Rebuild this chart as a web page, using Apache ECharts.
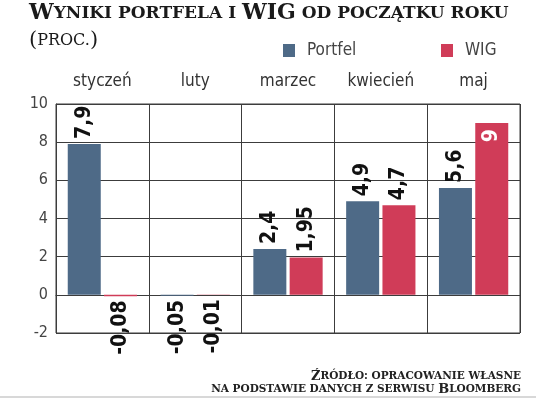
<!DOCTYPE html>
<html lang="pl">

<head>
    <meta charset="UTF-8">
    <title>Wyniki portfela i WIG</title>
    <style>
        html, body { margin: 0; padding: 0; background: #fff; }
        #chart { width: 536px; height: 399px; }
    </style>
    <script src="https://cdn.jsdelivr.net/npm/echarts@6/dist/echarts.min.js"></script>
</head>

<body>
    <div id="chart"></div>
    <script>
        var months = ['styczeń', 'luty', 'marzec', 'kwiecień', 'maj'];
        var portfel = [7.9, -0.05, 2.4, 4.9, 5.6];
        var wig = [-0.08, -0.01, 1.95, 4.7, 9];
        var yTicks = [-2, 0, 2, 4, 6, 8, 10];

        var sansC = '"DejaVu Sans Condensed", "Liberation Sans Narrow", sans-serif';
        var serif = '"DejaVu Serif", "Liberation Serif", serif';
        var lineColor = '#3c3c3c';

        // per-bar label: above for positive, below for negative, inside when near the top
        function bars(values) {
            return values.map(function (v) {
                var lbl;
                if (v > 8.5) {
                    lbl = { position: 'insideTop', align: 'right', color: '#fff', distance: 6 };
                } else if (v >= 0) {
                    lbl = { position: 'top', align: 'left', distance: 5 };
                } else {
                    lbl = { position: 'bottom', align: 'right', distance: 4 };
                }
                return { value: v, label: lbl };
            });
        }

        var labelBase = {
            show: true,
            rotate: 90,
            verticalAlign: 'middle',
            fontFamily: sansC,
            fontWeight: 'bold',
            fontSize: 21,
            color: '#111',
            formatter: function (p) { return String(p.value).replace('.', ','); }
        };

        var capsBig = { fontFamily: serif, fontWeight: 'bold', fontSize: 22, color: '#1a1a1a', lineHeight: 27 };
        var capsSmall = { fontFamily: serif, fontWeight: 'bold', fontSize: 17, color: '#1a1a1a', lineHeight: 27 };
        var srcBig = { fontFamily: serif, fontWeight: 'bold', fontSize: 13, color: '#222' };
        var srcSmall = { fontFamily: serif, fontWeight: 'bold', fontSize: 10.5, color: '#222' };

        echarts.init(document.getElementById('chart')).setOption({
            animation: false,
            title: [{
                left: 29,
                top: 0,
                padding: 0,
                text: '{b|W}{s|YNIKI PORTFELA I }{b|WIG}{s| OD POCZĄTKU ROKU}\n{p|(}{n|PROC.}{p|)}',
                textStyle: {
                    fontWeight: 'normal',
                    rich: {
                        b: capsBig,
                        s: capsSmall,
                        p: { fontFamily: serif, fontWeight: 'normal', fontSize: 21, color: '#1a1a1a', lineHeight: 27 },
                        n: { fontFamily: serif, fontWeight: 'normal', fontSize: 16, color: '#1a1a1a', lineHeight: 27 }
                    }
                }
            }, {
                right: 15,
                top: 370,
                padding: 0,
                text: '{b|Ź}{s|RÓDŁO: OPRACOWANIE WŁASNE}',
                textStyle: { rich: { b: srcBig, s: srcSmall } }
            }, {
                right: 15,
                top: 383,
                padding: 0,
                text: '{s|NA PODSTAWIE DANYCH Z SERWISU }{b|B}{s|LOOMBERG}',
                textStyle: { rich: { b: srcBig, s: srcSmall } }
            }],
            legend: [{
                data: ['Portfel'],
                left: 283,
                top: 42,
                padding: 0,
                icon: 'rect',
                itemWidth: 12,
                itemHeight: 13,
                textStyle: { fontFamily: sansC, fontSize: 17, color: '#444', padding: [0, 0, 0, 7] }
            }, {
                data: ['WIG'],
                left: 441,
                top: 42,
                padding: 0,
                icon: 'rect',
                itemWidth: 12,
                itemHeight: 13,
                textStyle: { fontFamily: sansC, fontSize: 17, color: '#444', padding: [0, 0, 0, 7] }
            }],
            grid: {
                left: 56,
                right: 16,
                top: 104,
                bottom: 66,
                show: true,
                borderColor: lineColor,
                borderWidth: 1
            },
            xAxis: {
                type: 'category',
                position: 'top',
                data: months,
                axisTick: { show: false },
                axisLine: { show: true, lineStyle: { color: lineColor, width: 1 } },
                splitLine: { show: true, lineStyle: { color: lineColor, width: 1 } },
                axisLabel: { fontFamily: sansC, fontSize: 17, color: '#333', margin: 14 }
            },
            yAxis: {
                type: 'value',
                min: yTicks[0],
                max: yTicks[yTicks.length - 1],
                interval: 2,
                axisTick: { show: false },
                axisLine: { show: true, lineStyle: { color: lineColor, width: 1 } },
                splitLine: { show: true, lineStyle: { color: lineColor, width: 1 } },
                axisLabel: { fontFamily: sansC, fontSize: 16, color: '#444', margin: 8 }
            },
            series: [{
                name: 'Portfel',
                type: 'bar',
                barWidth: 33,
                barGap: '10%',
                itemStyle: { color: '#4e6a87' },
                label: labelBase,
                data: bars(portfel)
            }, {
                name: 'WIG',
                type: 'bar',
                barWidth: 33,
                barGap: '10%',
                itemStyle: { color: '#d03c58' },
                label: labelBase,
                data: bars(wig)
            }],
            graphic: [{
                type: 'line',
                shape: { x1: 0, y1: 397, x2: 536, y2: 397 },
                style: { stroke: '#d8d8d8', lineWidth: 2 }
            }]
        });
    </script>
</body>

</html>
